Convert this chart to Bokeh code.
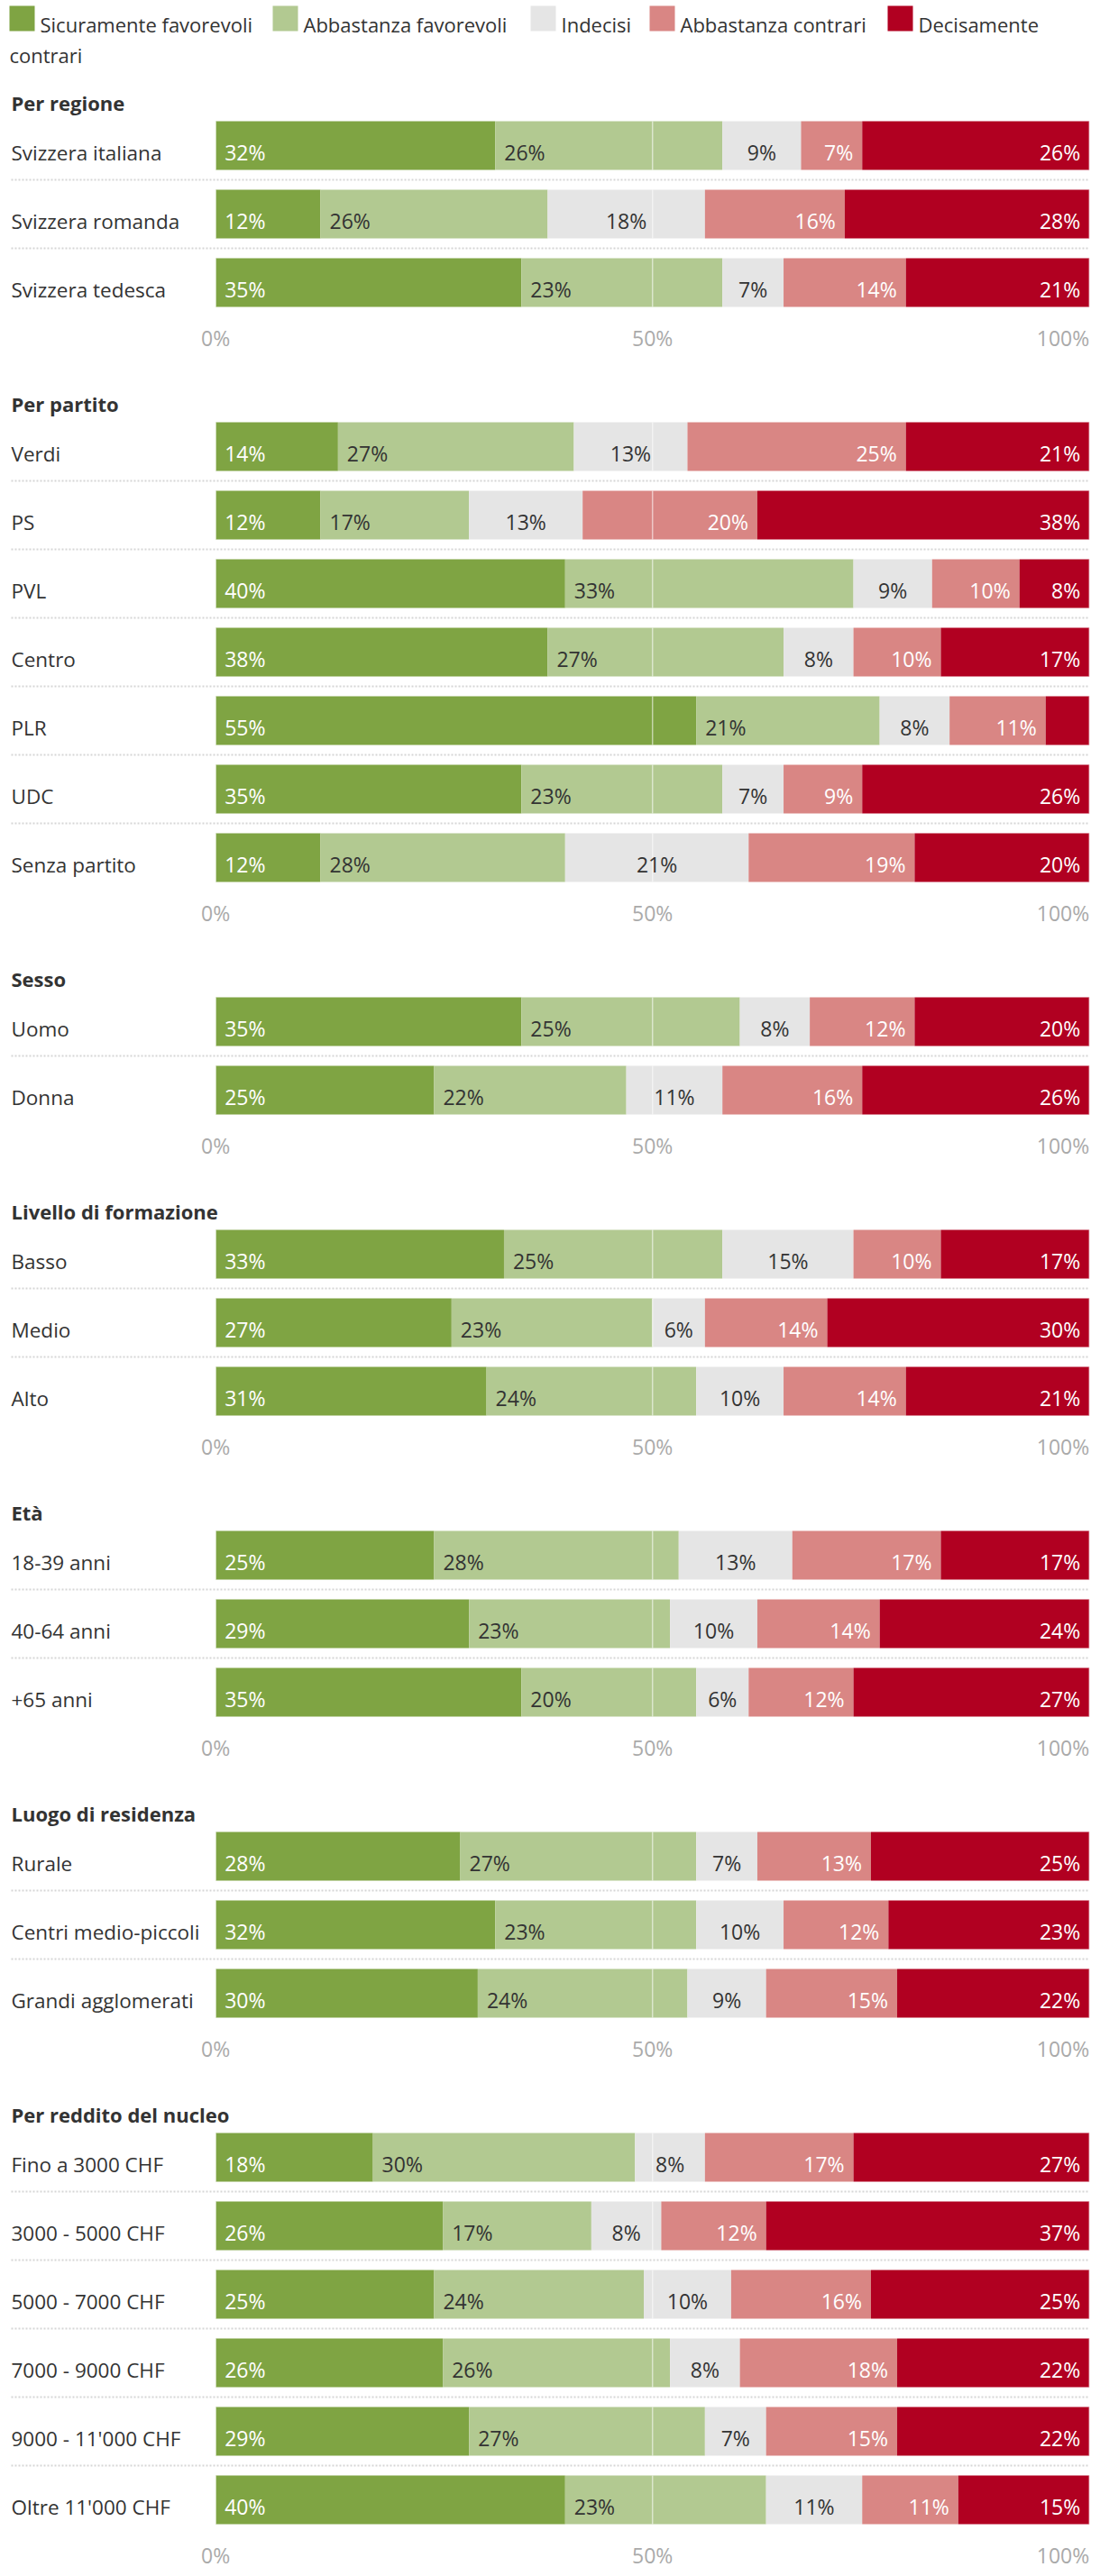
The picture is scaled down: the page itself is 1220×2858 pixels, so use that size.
from bokeh.plotting import figure
from bokeh.models import ColumnDataSource, Range1d
from bokeh.core.properties import value
from bokeh.embed import file_html
from bokeh.resources import INLINE

# ---------------- data ----------------
categories = ["Sicuramente favorevoli", "Abbastanza favorevoli", "Indecisi",
              "Abbastanza contrari", "Decisamente contrari"]
colors = ["#7fa443", "#b2c991", "#e5e5e5", "#d98684", "#b10021"]
label_colors = ["#ffffff", "#333333", "#333333", "#ffffff", "#ffffff"]

section_titles = ["Per regione", "Per partito", "Sesso", "Livello di formazione",
                  "Età", "Luogo di residenza", "Per reddito del nucleo"]

regione_labels = ["Svizzera italiana", "Svizzera romanda", "Svizzera tedesca"]
regione_values = [[32, 26, 9, 7, 26], [12, 26, 18, 16, 28], [35, 23, 7, 14, 21]]

partito_labels = ["Verdi", "PS", "PVL", "Centro", "PLR", "UDC", "Senza partito"]
partito_values = [[14, 27, 13, 25, 21], [12, 17, 13, 20, 38], [40, 33, 9, 10, 8],
                  [38, 27, 8, 10, 17], [55, 21, 8, 11, 5], [35, 23, 7, 9, 26],
                  [12, 28, 21, 19, 20]]

sesso_labels = ["Uomo", "Donna"]
sesso_values = [[35, 25, 8, 12, 20], [25, 22, 11, 16, 26]]

formazione_labels = ["Basso", "Medio", "Alto"]
formazione_values = [[33, 25, 15, 10, 17], [27, 23, 6, 14, 30], [31, 24, 10, 14, 21]]

eta_labels = ["18-39 anni", "40-64 anni", "+65 anni"]
eta_values = [[25, 28, 13, 17, 17], [29, 23, 10, 14, 24], [35, 20, 6, 12, 27]]

residenza_labels = ["Rurale", "Centri medio-piccoli", "Grandi agglomerati"]
residenza_values = [[28, 27, 7, 13, 25], [32, 23, 10, 12, 23], [30, 24, 9, 15, 22]]

reddito_labels = ["Fino a 3000 CHF", "3000 - 5000 CHF", "5000 - 7000 CHF",
                  "7000 - 9000 CHF", "9000 - 11'000 CHF", "Oltre 11'000 CHF"]
reddito_values = [[18, 30, 8, 17, 27], [26, 17, 8, 12, 37], [25, 24, 10, 16, 25],
                  [26, 26, 8, 18, 22], [29, 27, 7, 15, 22], [40, 23, 11, 11, 15]]

axis_ticks = [0, 50, 100]
axis_tick_labels = ["0%", "50%", "100%"]

sections = [
    (section_titles[0], regione_labels, regione_values),
    (section_titles[1], partito_labels, partito_values),
    (section_titles[2], sesso_labels, sesso_values),
    (section_titles[3], formazione_labels, formazione_values),
    (section_titles[4], eta_labels, eta_values),
    (section_titles[5], residenza_labels, residenza_values),
    (section_titles[6], reddito_labels, reddito_values),
]

# ---------------- layout (page pixels) ----------------
FIG_W, FIG_H = 1214, 2850
TOP = 8                                  # page y of the figure's top edge
BAR_X0, BAR_X1 = 238.7, 1207.7          # page px of 0% and 100%
PX_PER_PCT = (BAR_X1 - BAR_X0) / 100.0


def px2x(px):
    return (px - BAR_X0) / PX_PER_PCT


FIRST_CENTER = 169
PITCH = 76
SECTION_GAP = 182
BAR_H = 54
FONT = value("Open Sans")
TEXT_COLOR = "#333333"

p = figure(width=FIG_W, height=FIG_H,
           x_range=Range1d(px2x(0), px2x(FIG_W)),
           y_range=Range1d(TOP + FIG_H, TOP),
           output_backend="svg", toolbar_location=None,
           x_axis_location=None, y_axis_location=None,
           min_border=0, outline_line_color=None)
p.xgrid.visible = False
p.ygrid.visible = False
p.background_fill_color = "white"
p.border_fill_color = "white"

seg = {k: [] for k in ["y", "left", "right", "color"]}
lab = {k: [] for k in ["x", "y", "text", "color", "align", "xoff"]}
rows = {k: [] for k in ["x", "y", "text"]}
titles = {k: [] for k in ["x", "y", "text"]}
axl = {k: [] for k in ["x", "y", "text", "align"]}
sep = {k: [] for k in ["x0", "x1", "y"]}
grid = {k: [] for k in ["x", "y0", "y1"]}

center = FIRST_CENTER
for title, labels, values in sections:
    titles["x"].append(px2x(12)); titles["y"].append(center - 48); titles["text"].append(title)
    for i, (name, vals) in enumerate(zip(labels, values)):
        c = center + i * PITCH
        rows["x"].append(px2x(12)); rows["y"].append(c + 7.5); rows["text"].append(name)
        cum = 0
        for k, v in enumerate(vals):
            l, r = cum, cum + v
            cum = r
            seg["y"].append(c); seg["left"].append(l); seg["right"].append(r)
            seg["color"].append(colors[k])
            if v >= 6:
                if k in (0, 1):
                    lab["x"].append(l); lab["align"].append("left"); lab["xoff"].append(10)
                elif k == 2:
                    lab["x"].append((l + r) / 2); lab["align"].append("center"); lab["xoff"].append(0)
                else:
                    lab["x"].append(r); lab["align"].append("right"); lab["xoff"].append(-10)
                lab["y"].append(c + 7.5); lab["text"].append(f"{v}%")
                lab["color"].append(label_colors[k])
        for t in axis_ticks:
            grid["x"].append(t); grid["y0"].append(c - BAR_H / 2); grid["y1"].append(c + BAR_H / 2)
        if i < len(labels) - 1:
            sep["x0"].append(px2x(12)); sep["x1"].append(100); sep["y"].append(c + PITCH / 2)
    last = center + (len(labels) - 1) * PITCH
    for t, tl in zip(axis_ticks, axis_tick_labels):
        axl["x"].append(t); axl["y"].append(last + 61); axl["text"].append(tl)
        axl["align"].append("right" if t == 100 else "center")
    center = last + SECTION_GAP

# dotted separators
p.segment(x0="x0", x1="x1", y0="y", y1="y", source=ColumnDataSource(sep),
          line_color="#d6d6d6", line_width=2, line_dash="2 2")

# stacked bars
p.hbar(y="y", left="left", right="right", height=BAR_H, fill_color="color",
       line_color=None, source=ColumnDataSource(seg))

# light grid lines over bars
p.segment(x0="x", x1="x", y0="y0", y1="y1", source=ColumnDataSource(grid),
          line_color="white", line_alpha=0.55, line_width=1.5)

# value labels
p.text(x="x", y="y", text="text", text_color="color", text_align="align",
       x_offset="xoff", text_baseline="alphabetic", text_font=FONT,
       text_font_size="23px", source=ColumnDataSource(lab))

# row labels
p.text(x="x", y="y", text="text", text_color=TEXT_COLOR, text_align="left",
       text_baseline="alphabetic", text_font=FONT, text_font_size="22.5px",
       source=ColumnDataSource(rows))

# section titles
p.text(x="x", y="y", text="text", text_color=TEXT_COLOR, text_align="left",
       text_baseline="alphabetic", text_font=FONT, text_font_size="22px",
       text_font_style="bold", source=ColumnDataSource(titles))

# axis tick labels
p.text(x="x", y="y", text="text", text_color="#aaaaaa", text_align="align",
       text_baseline="alphabetic", text_font=FONT, text_font_size="23px",
       source=ColumnDataSource(axl))

# legend (wrapping like the original HTML legend)
leg_sq_px = [10, 302, 588, 720, 984]
leg_text = ["Sicuramente favorevoli", "Abbastanza favorevoli", "Indecisi",
            "Abbastanza contrari", "Decisamente"]
p.rect(x=[px2x(v + 14) for v in leg_sq_px], y=[28] * 5, width=28, height=28,
       width_units="screen", height_units="screen", fill_color=colors,
       line_color=None)
p.text(x=[px2x(v + 34) for v in leg_sq_px] + [px2x(10)],
       y=[34.5] * 5 + [68.5], text=leg_text + ["contrari"],
       text_color=TEXT_COLOR, text_align="left", text_baseline="alphabetic",
       text_font=FONT, text_font_size="22px")

open("out.html", "w").write(file_html(p, INLINE))
